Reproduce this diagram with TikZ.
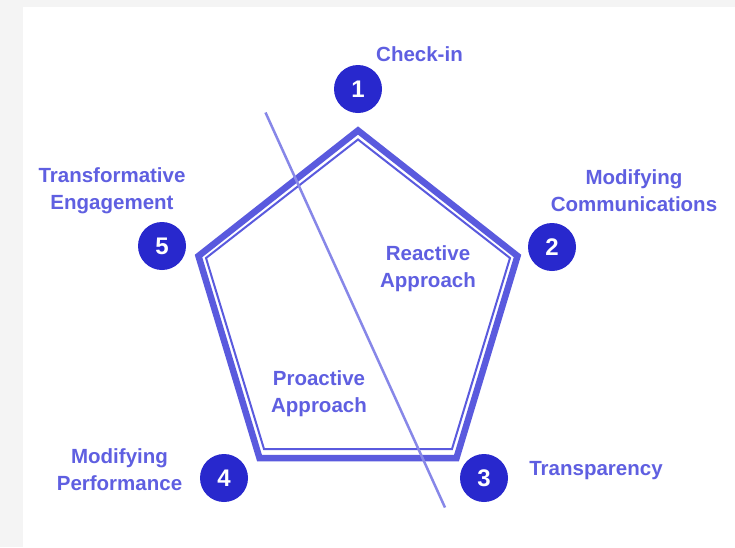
\documentclass[tikz,border=0pt]{standalone}
\usepackage{fontspec}
\setmainfont{Liberation Sans}
\usepackage{xcolor}
\usetikzlibrary{positioning}

\definecolor{pagegray}{RGB}{244,244,244}
\definecolor{penline}{RGB}{90,90,222}
\definecolor{circfill}{RGB}{40,40,205}
\definecolor{labeltext}{RGB}{95,95,225}
\definecolor{divline}{RGB}{135,135,232}

\begin{document}
\begin{tikzpicture}[x=1pt, y=-1pt, semithick]
    \tikzstyle{numdot}=[circle, fill=circfill, text=white, minimum size=48pt, inner sep=0pt, font=\fontsize{24}{24}\selectfont\bfseries]
    \tikzstyle{steptext}=[text=labeltext, align=center, inner sep=0pt, font=\fontsize{20.5}{27}\selectfont\bfseries]

    % page
    \fill[pagegray] (0,0) rectangle (735,547);
    \fill[white] (23,7) rectangle (735,547);
    \useasboundingbox (0,0) rectangle (735,547);

    % pentagon
    \coordinate (p1) at (358,130.5);
    \coordinate (p2) at (517.5,256);
    \coordinate (p3) at (456.5,458);
    \coordinate (p4) at (259.5,458);
    \coordinate (p5) at (198.5,256);
    \coordinate (q1) at (358,139.5);
    \coordinate (q2) at (510,258);
    \coordinate (q3) at (452,449);
    \coordinate (q4) at (264,449);
    \coordinate (q5) at (206,258);
    \draw[penline, line width=6.5pt] (p1) -- (p2) -- (p3) -- (p4) -- (p5) -- cycle;
    \draw[penline, line width=2pt] (q1) -- (q2) -- (q3) -- (q4) -- (q5) -- cycle;

    % dividing line
    \coordinate (d1) at (265.5,112.5);
    \coordinate (d2) at (445,507.5);
    \draw[divline, line width=2.5pt] (d1) -- (d2);

    \node[numdot] (n1) at (358,89)  {1};
    \node[numdot] (n2) at (552,247) {2};
    \node[numdot] (n3) at (484,478) {3};
    \node[numdot] (n4) at (224,478) {4};
    \node[numdot] (n5) at (162,246) {5};

    \node[steptext] (t1) at (419.5,54)  {Check-in};
    \node[steptext] (t2) at (634,191)   {Modifying\\Communications};
    \node[steptext] (t3) at (596,470.5) {Transparency};
    \node[steptext] (t4) at (119.5,470) {Modifying\\Performance};
    \node[steptext] (t5) at (112,191)   {Transformative\\Engagement};

    \node[steptext] (reactive)  at (428,268.5) {Reactive\\Approach};
    \node[steptext] (proactive) at (319,394)   {Proactive\\Approach};
\end{tikzpicture}
\end{document}
